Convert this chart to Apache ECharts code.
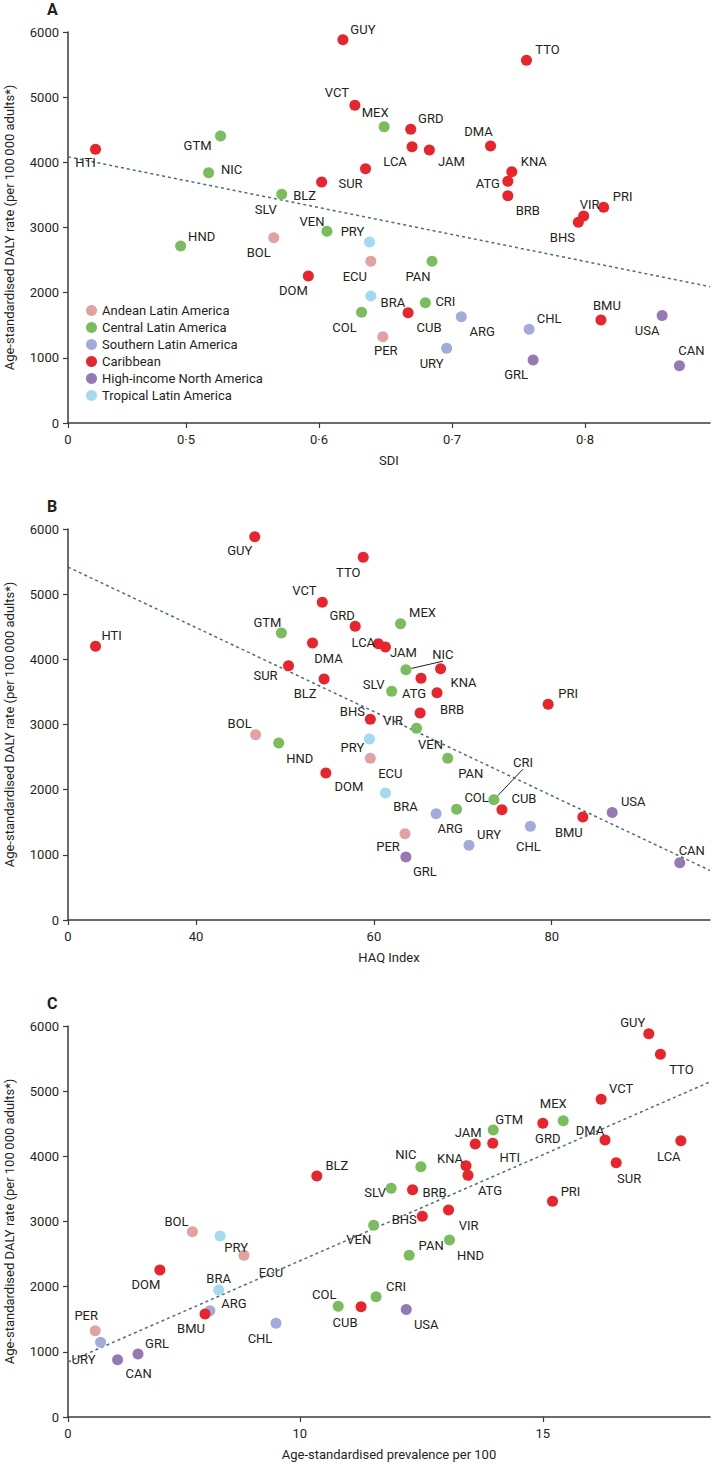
<!DOCTYPE html>
<html lang="en">
<head>
    <meta charset="UTF-8">
    <title>DALY rate vs SDI, HAQ and prevalence</title>
    <script src="https://cdn.jsdelivr.net/npm/echarts@6.0.0/dist/echarts.min.js"></script>
    <style>
        body { margin: 0; background: #fff; }
    </style>
</head>
<body>
    <div id="main" style="width: 712px;height:1465px;"></div>
    <script type="text/javascript">
        var myChart = echarts.init(document.getElementById('main'), null, {renderer: 'svg'});

        // regions and their colours
        const regions = ['Andean Latin America', 'Central Latin America', 'Southern Latin America',
            'Caribbean', 'High-income North America', 'Tropical Latin America'];
        const regionColors = ['#e0a3a1', '#7bbd5d', '#a3acd8', '#e8252c', '#9479b3', '#a3daef'];

        // countries, grouped by region
        const codes = ['BOL', 'ECU', 'PER',
            'COL', 'CRI', 'SLV', 'GTM', 'HND', 'MEX', 'NIC', 'PAN', 'VEN',
            'ARG', 'CHL', 'URY',
            'ATG', 'BHS', 'BRB', 'BLZ', 'BMU', 'CUB', 'DMA', 'DOM', 'GRD', 'GUY', 'HTI', 'JAM', 'PRI', 'LCA', 'VCT', 'SUR', 'TTO', 'VIR', 'KNA',
            'CAN', 'GRL', 'USA',
            'BRA', 'PRY'];
        const regionOf = [0, 0, 0,
            1, 1, 1, 1, 1, 1, 1, 1, 1,
            2, 2, 2,
            3, 3, 3, 3, 3, 3, 3, 3, 3, 3, 3, 3, 3, 3, 3, 3, 3, 3, 3,
            4, 4, 4,
            5, 5];

        // age-standardised DALY rate per 100 000 adults
        const daly = [2844, 2481, 1325,
            1700, 1846, 3509, 4404, 2716, 4547, 3841, 2481, 2941,
            1631, 1437, 1146,
            3708, 3079, 3488, 3698, 1580, 1693, 4250, 2256, 4507, 5880, 4200, 4190, 3310, 4240, 4875, 3900, 5565, 3176, 3857,
            880, 967, 1650,
            1949, 2777];
        const sdi = [0.566, 0.639, 0.648,
            0.632, 0.680, 0.572, 0.526, 0.496, 0.649, 0.517, 0.685, 0.606,
            0.707, 0.758, 0.696,
            0.742, 0.795, 0.742, 0.602, 0.812, 0.667, 0.729, 0.592, 0.669, 0.618, 0.432, 0.683, 0.814, 0.670, 0.627, 0.635, 0.756, 0.799, 0.745,
            0.871, 0.761, 0.858,
            0.639, 0.638];
        const haq = [46.7, 59.6, 63.5,
            69.3, 73.5, 62.0, 49.6, 49.3, 63.0, 63.6, 68.3, 64.8,
            67.0, 77.6, 70.7,
            65.3, 59.6, 67.1, 54.4, 83.5, 74.4, 53.1, 54.6, 57.9, 46.6, 28.7, 61.3, 79.6, 60.5, 54.2, 50.4, 58.8, 65.2, 67.5,
            94.4, 63.6, 86.8,
            61.3, 59.5];
        const prevalence = [7.79, 8.85, 5.79,
            10.79, 11.57, 11.88, 13.98, 13.08, 15.42, 12.49, 12.25, 11.52,
            8.15, 9.51, 5.90,
            13.46, 12.52, 12.32, 10.35, 8.05, 11.26, 16.28, 7.12, 15.0, 17.18, 13.97, 13.61, 15.20, 17.84, 16.20, 16.51, 17.42, 13.06, 13.42,
            6.25, 6.67, 12.19,
            8.33, 8.36];

        // axis ranges (the axes start at a break, labelled 0) and tick labels
        const rangeA = [0.4113, 0.894], ticksA = [0.4113, 0.5, 0.6, 0.7, 0.8];
        const rangeB = [25.6, 97.8], ticksB = [25.6, 40, 60, 80];
        const rangeC = [5.23, 18.44], ticksC = [5.23, 10, 15];

        // fitted trend lines (end points)
        const trendA = [[0.4113, 4085], [0.894, 2092]];
        const trendB = [[25.6, 5416], [97.8, 760]];
        const trendC = [[5.23, 844], [18.44, 5142]];

        // label offsets from the dot centre, in px
        const labA = {GUY: [20, -10], TTO: [21, -11], VCT: [-18, -13], MEX: [-9, -14], GRD: [20, -11], DMA: [-12, -15],
            GTM: [-23, 9], HTI: [-10, 13], LCA: [-17, 15], JAM: [22, 12], KNA: [22, -10], NIC: [23, -3], SUR: [-15, 15],
            ATG: [-20, 2], BRB: [20, 15], BLZ: [-17, 13], SLV: [-16, 15], PRI: [19, -11], VIR: [6, -12], BHS: [-16, 15],
            VEN: [-15, -10], PRY: [-17, -11], HND: [21, -10], BOL: [-15, 15], ECU: [-16, 15], PAN: [-14, 15], DOM: [-15, 15],
            BRA: [22, 7], CRI: [20, -1], CUB: [21, 15], COL: [-17, 15], ARG: [21, 15], CHL: [20, -11], BMU: [6, -15],
            USA: [-15, 15], PER: [3, 14], URY: [-15, 15], GRL: [-17, 15], CAN: [12, -15]};
        const labB = {GUY: [-15, 14], TTO: [-15, 15], VCT: [-18, -12], GRD: [-13, -11], MEX: [22, -11], GTM: [-14, -11],
            HTI: [16, -11], DMA: [16, 15], LCA: [-15, -1], JAM: [18, 6], NIC: [37, -15], KNA: [23, 14], ATG: [-7, 15],
            BLZ: [-19, 14], SLV: [-18, -7], BRB: [15, 17], VIR: [-27, 7], BHS: [-18, -8], SUR: [-23, 10], PRI: [20, -11],
            VEN: [14, 16], BOL: [-16, -11], HND: [21, 15], PRY: [-17, 8], ECU: [20, 15], PAN: [23, 15], DOM: [23, 14],
            BRA: [20, 14], COL: [20, -12], CRI: [29, -37], CUB: [22, -11], ARG: [14, 15], URY: [20, -11], CHL: [-2, 20],
            BMU: [-14, 15], USA: [21, -11], PER: [-17, 13], GRL: [19, 15], CAN: [12, -12]};
        const labC = {GUY: [-16, -11], TTO: [21, 15], VCT: [20, -11], MEX: [-10, -17], GRD: [5, 15], GTM: [16, -11],
            DMA: [-15, -10], LCA: [-12, 16], JAM: [-7, -11], HTI: [17, 14], SUR: [13, 16], NIC: [-15, -12], KNA: [-16, -7],
            ATG: [22, 15], BLZ: [20, -11], SLV: [-16, 4], BRB: [22, 3], PRI: [18, -10], VIR: [20, 15], BHS: [-18, 3],
            VEN: [-15, 14], HND: [21, 15], PAN: [22, -10], BOL: [-16, -10], PRY: [16, 11], ECU: [27, 17], DOM: [-14, 15],
            BRA: [0, -11], CRI: [20, -10], COL: [-14, -12], CUB: [-16, 16], USA: [20, 15], ARG: [24, -7], BMU: [-14, 14],
            CHL: [-16, 15], PER: [-9, -15], URY: [-17, 17], CAN: [21, 14], GRL: [19, -10]};
        // labels joined to their dot by a short line (panel B)
        const leaderB = ['NIC', 'CRI'];

        const ink = '#231f20';
        const font = 'Roboto, "Liberation Sans", sans-serif';
        const yTitle = 'Age-standardised DALY rate (per 100\u2009000 adults*)';

        let panels = [
            {x: sdi, range: rangeA, ticks: ticksA, trend: trendA, lab: labA, leader: [], title: 'SDI', top: 32,
                fmt: v => v.toFixed(1).replace('.', '\u00b7')},
            {x: haq, range: rangeB, ticks: ticksB, trend: trendB, lab: labB, leader: leaderB, title: 'HAQ Index', top: 529,
                fmt: v => String(v)},
            {x: prevalence, range: rangeC, ticks: ticksC, trend: trendC, lab: labC, leader: [], title: 'Age-standardised prevalence per 100', top: 1026,
                fmt: v => String(v)},
        ];

        let grids = [], xAxes = [], yAxes = [], series = [];
        panels.forEach((p, pi) => {
            // fixed plot box; the axis titles sit outside it
            grids.push({left: 68, right: 2, top: p.top, height: 391, outerBoundsMode: 'none', containLabel: false});
            xAxes.push({
                gridIndex: pi, type: 'value', min: p.range[0], max: p.range[1],
                name: p.title, nameLocation: 'middle', nameGap: 31,
                nameTextStyle: {fontSize: 13, color: ink, fontFamily: font},
                axisLine: {show: true, lineStyle: {color: '#3b3b3b', width: 1.5}},
                axisTick: {show: true, length: 5, customValues: p.ticks, lineStyle: {color: '#3b3b3b', width: 1.2}},
                axisLabel: {customValues: p.ticks, margin: 10, fontSize: 13, color: ink, fontFamily: font,
                    formatter: v => (v === p.range[0] ? '0' : p.fmt(v))},
                splitLine: {show: false},
            });
            yAxes.push({
                gridIndex: pi, type: 'value', min: 0, max: 6000, interval: 1000,
                name: yTitle, nameLocation: 'middle', nameGap: 52,
                nameTextStyle: {fontSize: 13, color: ink, fontFamily: font},
                axisLine: {show: true, lineStyle: {color: '#3b3b3b', width: 1.5}},
                axisTick: {show: true, length: 5, lineStyle: {color: '#3b3b3b', width: 1.2}},
                axisLabel: {margin: 9, fontSize: 13, color: ink, fontFamily: font, formatter: v => String(v)},
                splitLine: {show: false},
            });

            // trend line
            series.push({
                type: 'line', xAxisIndex: pi, yAxisIndex: pi, data: p.trend, symbol: 'none', silent: true,
                lineStyle: {color: '#4a6f7e', width: 1.5, type: [3, 3]}, z: 1,
            });

            regions.forEach((rname, ri) => {
                let plain = [], led = [];
                codes.forEach((c, i) => {
                    if (regionOf[i] !== ri) return;
                    let item = {name: c, value: [p.x[i], daly[i]], label: {offset: p.lab[c] || [0, 0]}};
                    (p.leader.indexOf(c) >= 0 ? led : plain).push(item);
                });
                let base = {
                    name: rname, type: 'scatter', xAxisIndex: pi, yAxisIndex: pi,
                    symbolSize: 11, itemStyle: {color: regionColors[ri], opacity: 1}, z: 3,
                    label: {show: true, position: 'inside', formatter: '{b}', color: ink, fontSize: 13,
                        fontFamily: font, textBorderWidth: 0},
                    emphasis: {disabled: true},
                };
                series.push(Object.assign({}, base, {data: plain}));
                if (led.length) {
                    series.push(Object.assign({}, base, {
                        data: led,
                        labelLine: {show: true, length2: 0, lineStyle: {color: ink, width: 1}},
                    }));
                }
            });
        });

        let option = {
            animation: false,
            textStyle: {fontFamily: font},
            title: [
                {text: 'A', left: 42, top: -4},
                {text: 'B', left: 42, top: 493},
                {text: 'C', left: 42, top: 990},
            ].map(t => Object.assign(t, {textStyle: {fontSize: 16, fontWeight: 'bold', color: ink, fontFamily: font}})),
            legend: {
                data: regions, orient: 'vertical', left: 81, top: 299,
                icon: 'circle', itemWidth: 11, itemHeight: 11, itemGap: 4,
                textStyle: {fontSize: 13, color: ink, fontFamily: font},
                selectedMode: false,
            },
            grid: grids,
            xAxis: xAxes,
            yAxis: yAxes,
            series: series,
        };

        myChart.setOption(option);
    </script>
</body>
</html>
